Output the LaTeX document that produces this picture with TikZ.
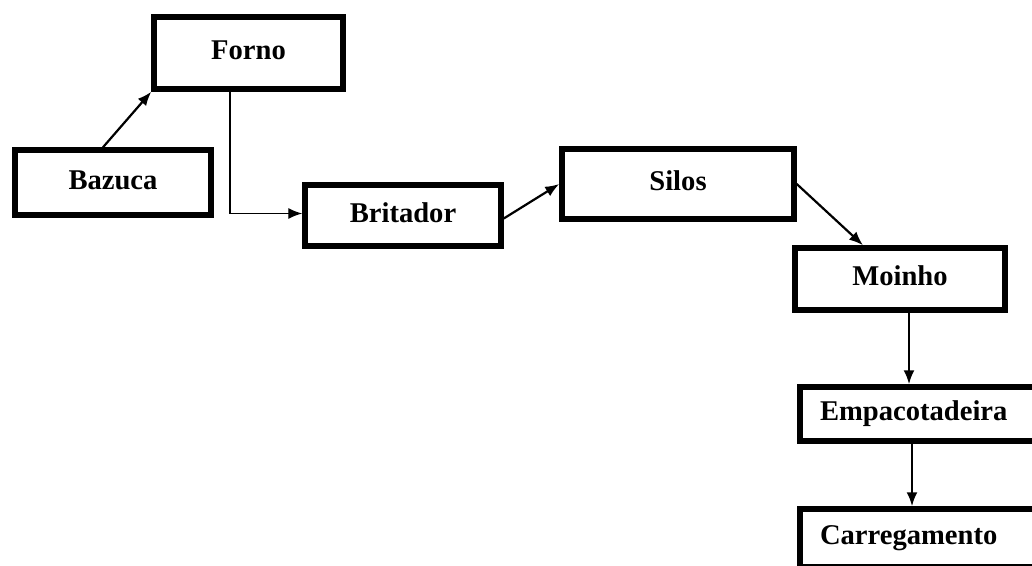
\documentclass[tikz,border=0pt]{standalone}
\usepackage{fontspec}
\setmainfont{Liberation Serif}
\usetikzlibrary{arrows.meta}
\tikzstyle{box} = [rectangle, draw=black, line width=5.5pt, text centered, text height=21pt, text depth=8pt, font=\bfseries\fontsize{28.6}{34}\selectfont]
\tikzstyle{leftbox} = [box, inner xsep=20pt, text width=210pt, align=left]
\tikzstyle{arrow} = [line width=2.2pt,->,>={Latex[length=14pt,width=11pt]}]

\begin{document}
\begin{tikzpicture}[x=1pt, y=1pt, node distance=130pt]
			\useasboundingbox (0,0) rectangle (1032,-565);
			\clip (0,0) rectangle (1032,-565);
			\node(forno)[box, minimum width=189pt, minimum height=72pt] at (248.5,-53) {Forno};
			\node(bazuca)[box, minimum width=196pt, minimum height=65pt, below of=forno, xshift=-135.5pt, yshift=0.5pt]{Bazuca};
			\node(britador)[box, minimum width=196pt, minimum height=61pt, right of=bazuca, xshift=160pt, yshift=-33pt]{Britador};
			\node(silos)[box, minimum width=232pt, minimum height=70pt, right of=britador, xshift=145pt, yshift=31.5pt]{Silos};
			\node(moinho)[box, minimum width=210pt, minimum height=62pt, below of=silos, xshift=222pt, yshift=35pt]{Moinho};
			\node(empac)[leftbox, minimum height=54pt, below of=moinho, xshift=25pt, yshift=-5pt]{Empacotadeira};
			\node(carreg)[leftbox, minimum height=58pt, below of=empac, yshift=6pt]{Carregamento};

			\draw [arrow] ([xshift=-10pt]bazuca.north) -- (forno.south west);
			\draw [arrow, line width=1.4pt] ([xshift=-18.5pt]forno.south) |- ([yshift=2pt]britador.west);
			\draw [arrow] ([yshift=-3pt]britador.east) -- (silos.west);
			\draw [arrow] (silos.east) -- ([xshift=-37pt]moinho.north);
			\draw [arrow] ([xshift=-16pt]empac.north |- moinho.south) -- ([xshift=-16pt]empac.north);
			\draw [arrow] ([xshift=-13pt]empac.south) -- ([xshift=-13pt]carreg.north);
		\end{tikzpicture}
\end{document}
